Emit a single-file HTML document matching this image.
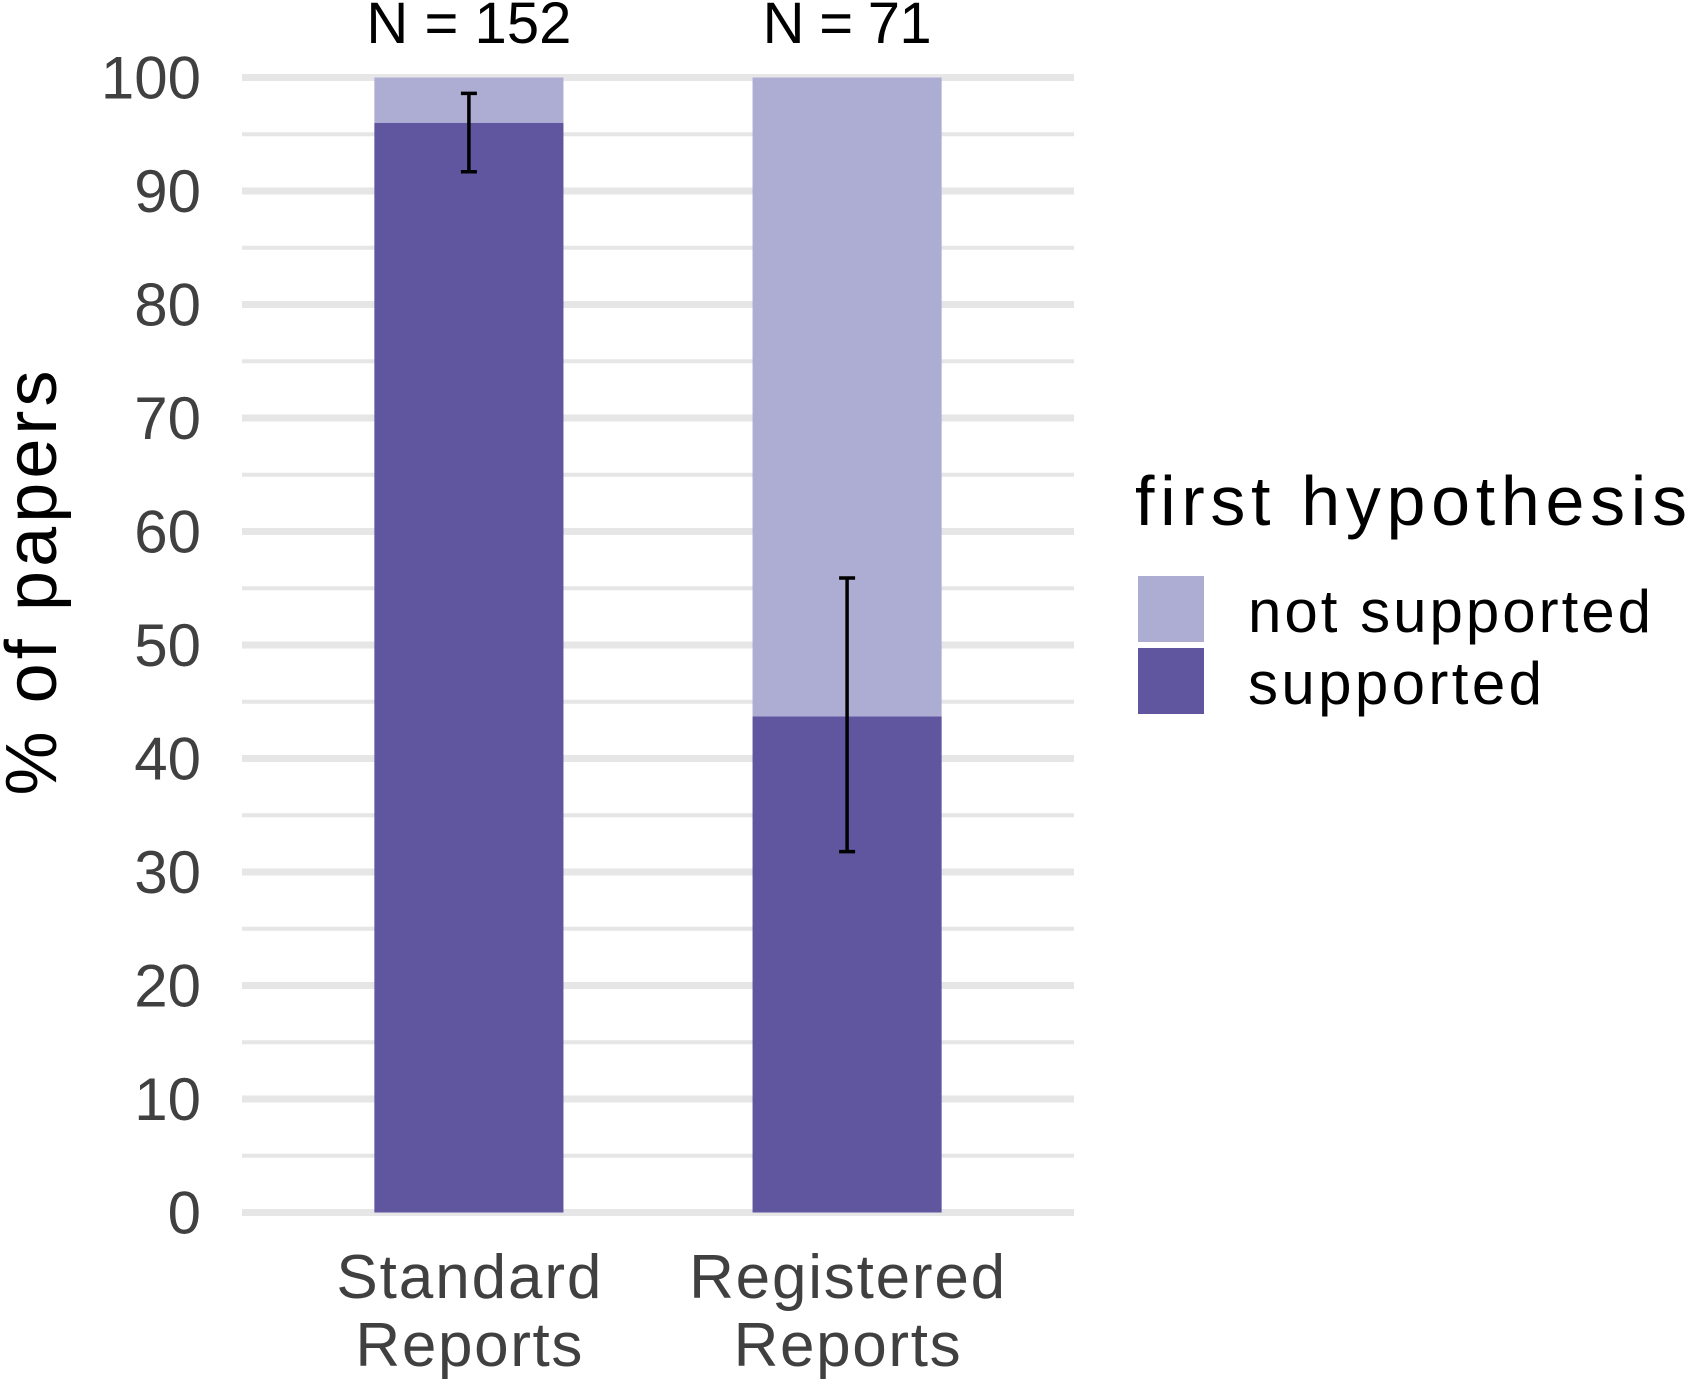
<!DOCTYPE html>
<html><head><meta charset="utf-8"><style>
body{margin:0;background:#fff}
svg text{font-family:"Liberation Sans",Arial,sans-serif}
</style></head><body>
<svg width="1687" height="1385" viewBox="0 0 1687 1385" xmlns="http://www.w3.org/2000/svg">
<g id="grid"></g>
<g id="bars"></g>
<g id="yt"></g>
<g id="xl"></g>
<text transform="translate(56,583) rotate(-90)" text-anchor="middle" font-size="72" textLength="425" lengthAdjust="spacing" fill="#000">% of papers</text>
<g>
<text x="1135" y="525" font-size="70" textLength="552" lengthAdjust="spacing" fill="#000">first hypothesis</text>
<rect x="1138" y="576" width="66" height="66" fill="#adadd3"/>
<rect x="1138" y="648" width="66" height="66" fill="#6056a0"/>
<text x="1248" y="632" font-size="60" textLength="403" lengthAdjust="spacing" fill="#000">not supported</text>
<text x="1248" y="704" font-size="60" textLength="294" lengthAdjust="spacing" fill="#000">supported</text>
</g>
</svg>
<script>
const categories=[["Standard","Reports"],["Registered","Reports"]];
const supported=[96,43.7];
const errLow=[91.7,31.8];
const errHigh=[98.6,55.9];
const nLabels=["N = 152","N = 71"];
const yTicks=[0,10,20,30,40,50,60,70,80,90,100];
const NS="http://www.w3.org/2000/svg";
const y0=1212.5,y100=77.5,xL=242,xR=1074;
const y=v=>y0+(y100-y0)*v/100;
const xc=i=>xL+(i+0.6)/(categories.length+0.2)*(xR-xL);
const bw=0.5/(categories.length+0.2)*(xR-xL);
function mk(t,a,p){const e=document.createElementNS(NS,t);for(const k in a)e.setAttribute(k,a[k]);p.appendChild(e);return e;}
function tl(e,w){e.setAttribute('textLength',w);e.setAttribute('lengthAdjust','spacing');}
const g=document.getElementById('grid');
for(let v=0;v<=100;v+=5){
const l=mk('line',{x1:xL,x2:xR,y1:y(v),y2:y(v),stroke:'#e6e6e6','stroke-width':v%10===0?7:4},g);


}
const yt=document.getElementById('yt');
yTicks.forEach(v=>{const t=mk('text',{x:201,y:y(v)+21,'text-anchor':'end','font-size':60,fill:'#404040'},yt);t.textContent=v;

});
const b=document.getElementById('bars'),xl=document.getElementById('xl');
const nW=[205,169];
const xW={"Standard":265,"Reports":227,"Registered":316};
categories.forEach((c,i)=>{
const cx=xc(i);
const r1=mk('rect',{x:cx-bw/2,y:y(100),width:bw,height:y(supported[i])-y(100),fill:'#adadd3'},b);


const r2=mk('rect',{x:cx-bw/2,y:y(supported[i]),width:bw,height:y0-y(supported[i]),fill:'#6056a0'},b);


const eb=mk('path',{d:`M${cx-8},${y(errHigh[i])}H${cx+8}M${cx},${y(errHigh[i])}V${y(errLow[i])}M${cx-8},${y(errLow[i])}H${cx+8}`,stroke:'#000','stroke-width':3.5,fill:'none'},b);


const n=mk('text',{x:cx,y:43,'text-anchor':'middle','font-size':58,fill:'#000'},b);n.textContent=nLabels[i];tl(n,nW[i]);


c.forEach((s,j)=>{const t=mk('text',{x:cx,y:1298+j*68,'text-anchor':'middle','font-size':62,fill:'#404040'},xl);t.textContent=s;if(xW[s])tl(t,xW[s]);

});
});
</script>
</body></html>
